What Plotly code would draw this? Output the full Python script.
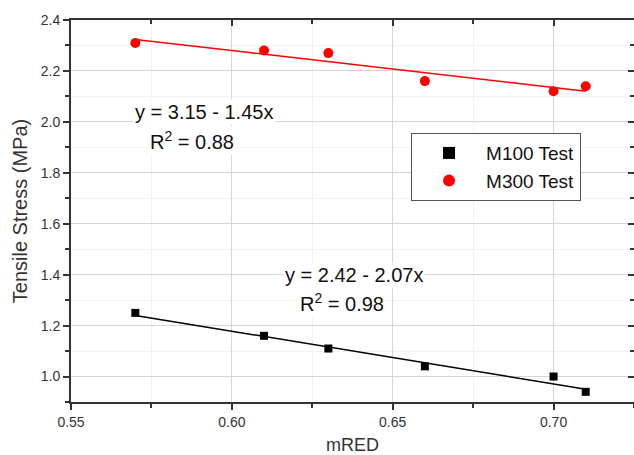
import plotly.graph_objects as go

# Data
x_vals = [0.57, 0.61, 0.63, 0.66, 0.70, 0.71]
m100 = [1.25, 1.16, 1.11, 1.04, 1.00, 0.94]
m300 = [2.31, 2.28, 2.27, 2.16, 2.12, 2.14]
fit_x = [0.57, 0.71]
m100_fit = [2.42 - 2.07 * v for v in fit_x]
m300_fit = [3.15 - 1.45 * v for v in fit_x]

AX = "#333333"
FONT = "Liberation Sans, Arial, sans-serif"

fig = go.Figure()
fig.add_trace(go.Scatter(x=fit_x, y=m100_fit, mode="lines",
                         line=dict(color="black", width=1.5), showlegend=False))
fig.add_trace(go.Scatter(x=fit_x, y=m300_fit, mode="lines",
                         line=dict(color="#ff0000", width=1.5), showlegend=False))
fig.add_trace(go.Scatter(x=x_vals, y=m100, mode="markers", name="M100 Test",
                         marker=dict(symbol="square", color="black", size=8)))
fig.add_trace(go.Scatter(x=x_vals, y=m300, mode="markers", name="M300 Test",
                         marker=dict(symbol="circle", color="#ff0000", size=10)))
# invisible trace to create mirrored axes
fig.add_trace(go.Scatter(x=[0.6], y=[1.5], xaxis="x2", yaxis="y2", mode="markers",
                         marker=dict(opacity=0), showlegend=False, hoverinfo="skip"))

XR = [0.55, 0.725]
YR = [0.9, 2.4]

fig.update_layout(
    width=634, height=455,
    margin=dict(l=71, r=0, t=20, b=53),
    paper_bgcolor="white", plot_bgcolor="white",
    font=dict(family=FONT, color=AX, size=14),
    xaxis=dict(range=XR, tick0=0.55, dtick=0.05, tickformat=".2f", automargin=False,
               showline=True, linecolor=AX, linewidth=2,
               ticks="outside", ticklen=6, tickwidth=1.5, tickcolor=AX,
               showgrid=True, gridcolor="#d6d6d6", gridwidth=1, zeroline=False,
               minor=dict(dtick=0.025, ticks="outside", ticklen=4, tickcolor=AX,
                          showgrid=True, gridcolor="#f2f2f2"),
               title=dict(text="mRED", font=dict(size=18, color=AX), standoff=14),
               tickfont=dict(size=14, color=AX)),
    yaxis=dict(range=YR, tick0=1.0, dtick=0.2, tickformat=".1f", automargin=False,
               showline=True, linecolor=AX, linewidth=2,
               ticks="outside", ticklen=6, tickwidth=1.5, tickcolor=AX,
               showgrid=True, gridcolor="#d6d6d6", gridwidth=1, zeroline=False,
               minor=dict(dtick=0.1, ticks="outside", ticklen=4, tickcolor=AX,
                          showgrid=True, gridcolor="#f2f2f2"),
               title=dict(text="Tensile Stress (MPa)", font=dict(size=20, color=AX), standoff=8),
               tickfont=dict(size=14, color=AX)),
    xaxis2=dict(range=XR, overlaying="x", side="top", anchor="y", automargin=False,
                tick0=0.55, dtick=0.05, showticklabels=False,
                showline=True, linecolor=AX, linewidth=2,
                ticks="inside", ticklen=6, tickwidth=1.5, tickcolor=AX,
                showgrid=False, zeroline=False,
                minor=dict(dtick=0.025, ticks="inside", ticklen=4, tickcolor=AX)),
    yaxis2=dict(range=YR, overlaying="y", side="right", anchor="x", automargin=False,
                tick0=1.0, dtick=0.2, showticklabels=False,
                showline=False,
                ticks="inside", ticklen=6, tickwidth=1.5, tickcolor=AX,
                showgrid=False, zeroline=False,
                minor=dict(dtick=0.1, ticks="inside", ticklen=4, tickcolor=AX)),
    legend=dict(x=0.604, y=0.704, xanchor="left", yanchor="top",
                bgcolor="white", bordercolor="#555555", borderwidth=1,
                font=dict(size=19, color="#111111"), itemsizing="constant",
                itemwidth=64, tracegroupgap=0),
    showlegend=True,
)

ANN = dict(size=20, color="#111111")
fig.add_annotation(x=0.5913, y=2.04, xref="x", yref="y", text="y = 3.15 - 1.45x",
                   showarrow=False, bgcolor="white", font=ANN)
fig.add_annotation(x=0.5876, y=1.925, xref="x", yref="y", text="R<sup>2</sup> = 0.88",
                   showarrow=False, bgcolor="white", font=ANN)
fig.add_annotation(x=0.6380, y=1.40, xref="x", yref="y", text="y = 2.42 - 2.07x",
                   showarrow=False, bgcolor="white", font=ANN)
fig.add_annotation(x=0.6342, y=1.29, xref="x", yref="y", text="R<sup>2</sup> = 0.98",
                   showarrow=False, bgcolor="white", font=ANN)

fig.write_html("out.html", config={"displayModeBar": False},
               post_script="document.body.style.margin='0';document.body.style.overflow='hidden';")
